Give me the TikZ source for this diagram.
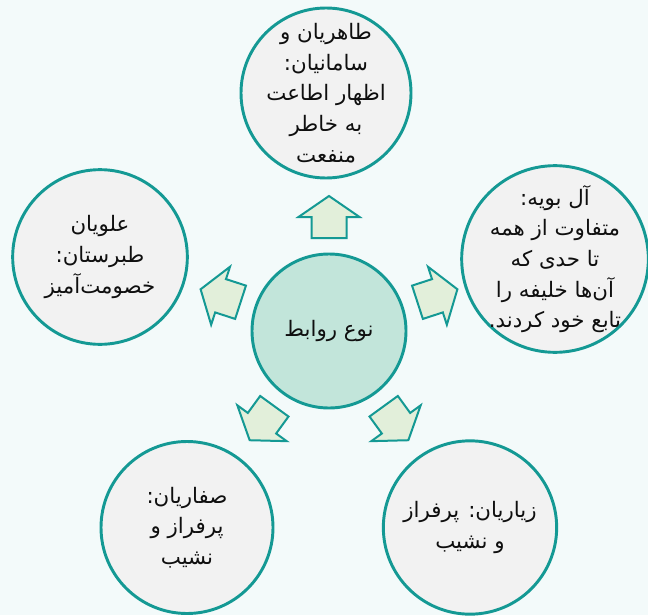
\documentclass[tikz,border=0pt]{standalone}
\usepackage{fontspec}
\TeXXeTstate=1
\newfontfamily\arabicfont[Script=Arabic]{DejaVu Sans}
\newcommand{\rl}[1]{\beginR#1\endR}
\definecolor{bgc}{RGB}{243,250,250}
\definecolor{teal1}{RGB}{20,153,148}
\definecolor{cfill}{RGB}{242,242,242}
\definecolor{mfill}{RGB}{194,229,218}
\definecolor{afill}{RGB}{226,239,218}
\definecolor{txt}{RGB}{15,15,15}
\begin{document}
\begin{tikzpicture}[x=0.75pt,y=0.75pt,
  circ/.style={circle, draw=teal1, line width=2.2pt, fill=cfill, inner sep=0pt},
  lbl/.style={inner sep=0pt, text=txt, align=center, font=\arabicfont\fontsize{16}{23}\selectfont},
  arrowblock/.style={draw=teal1, line width=1.5pt, fill=afill, line join=miter}]
\fill[bgc] (0,0) rectangle (648,615);
\useasboundingbox (0,0) rectangle (648,615);
% circles
\node[circ, fill=mfill, minimum size=115.5pt] (ctr) at (329,284) {};
\node[circ, minimum size=127.5pt] (top) at (326,522) {};
\node[circ, minimum size=140pt] (right) at (555,356) {};
\node[circ, minimum size=130pt] (br) at (470,87.5) {};
\node[circ, minimum size=129pt] (bl) at (187,87.5) {};
\node[circ, minimum size=131pt] (left) at (100,358) {};
% texts
\node[lbl] (ctrT) at (ctr.center) {\rl{نوع روابط}};
\node[lbl] (topT) at (top.center) {\rl{طاهریان و}\\\rl{سامانیان:}\\\rl{اظهار اطاعت}\\\rl{به خاطر}\\\rl{منفعت}};
\node[lbl] (rightT) at (right.center) {\rl{آل بویه:}\\\rl{متفاوت از همه}\\\rl{تا حدی که}\\\rl{آن‌ها خلیفه را}\\\rl{تابع خود کردند.}};
\node[lbl] (brT) at (br.center) {\rl{زیاریان: پرفراز}\\\rl{و نشیب}};
\node[lbl] (blT) at (bl.center) {\rl{صفاریان:}\\\rl{پرفراز و}\\\rl{نشیب}};
\node[lbl] (leftT) at (left.center) {\rl{علویان}\\\rl{طبرستان:}\\\rl{خصومت‌آمیز}};
% block arrows
\foreach \a in {90,18,162,-54,-126}{
  \begin{scope}[shift={(ctr.center)}, rotate=\a]
    \draw[arrowblock] (93,-17.5) -- (114,-17.5) -- (114,-30.5) -- (135,0) -- (114,30.5) -- (114,17.5) -- (93,17.5) -- cycle;
  \end{scope}
}
\end{tikzpicture}
\end{document}
